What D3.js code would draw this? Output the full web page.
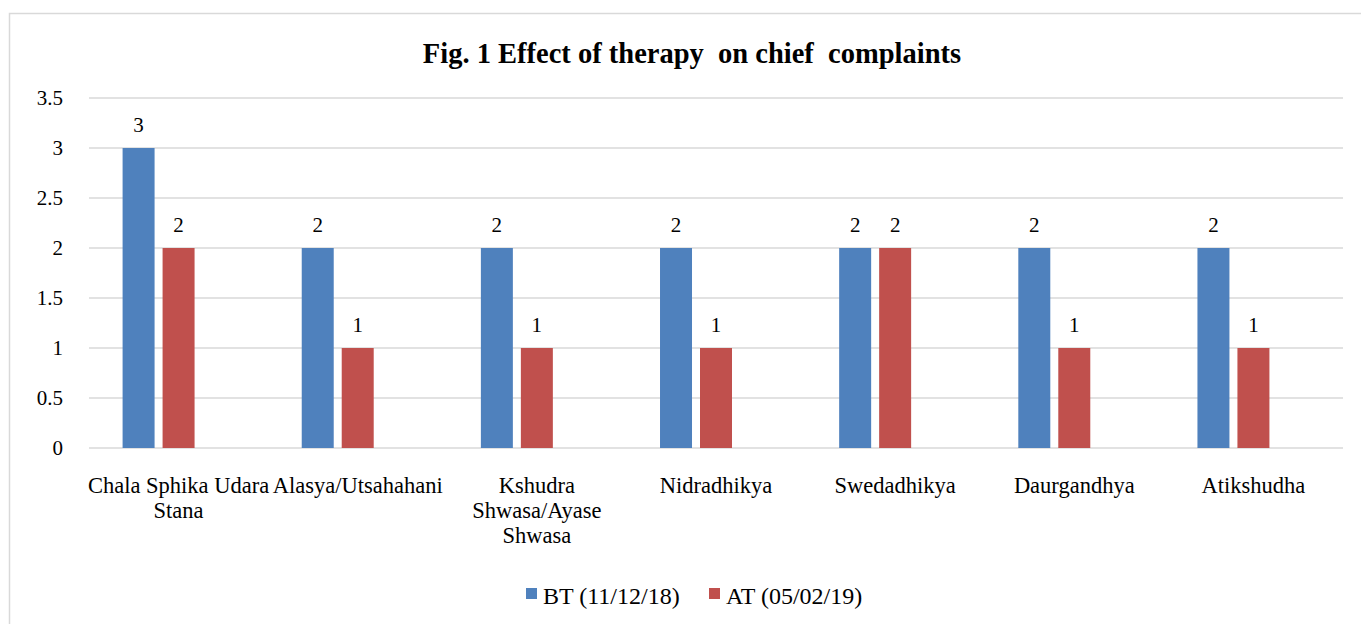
<html>
<script src="https://d3js.org/d3.v7.min.js"></script>
<style>
  body { margin: 0; background: #fff; }
  text { fill: #000; }
</style>
<body>
<script>
// chart data
var categories = ["Chala Sphika Udara\nStana", "Alasya/Utsahahani", "Kshudra\nShwasa/Ayase\nShwasa",
                  "Nidradhikya", "Swedadhikya", "Daurgandhya", "Atikshudha"];
var seriesNames = ["BT (11/12/18)", "AT (05/02/19)"];
var btValues = [3, 2, 2, 2, 2, 2, 2];
var atValues = [2, 1, 1, 1, 2, 1, 1];
var yTicks = [0, 0.5, 1, 1.5, 2, 2.5, 3, 3.5];
var colors = ["#4F81BD", "#C0504D"];

var w = 1361, h = 624;
var padL = 89, padR = 1343, padT = 98, padB = 448;
var serif = "'Liberation Serif', serif";

var svg = d3.select("body").append("svg")
    .attr("width", w)
    .attr("height", h);

// chart area border (runs off the right / bottom edge like the original)
svg.append("rect")
    .attr("x", 9.5).attr("y", 13.5)
    .attr("width", w + 20).attr("height", h + 20)
    .attr("fill", "#fff")
    .attr("stroke", "#D9D9D9")
    .attr("stroke-width", 1.5);

svg.append("text")
    .attr("x", 692).attr("y", 62.5)
    .attr("text-anchor", "middle")
    .style("font-family", serif)
    .style("font-weight", "bold")
    .style("font-size", "28.5px")
    .style("white-space", "pre")
    .text("Fig. 1 Effect of therapy  on chief  complaints");

var yScale = d3.scaleLinear().domain([0, 3.5]).range([padB, padT]);
var xScale = d3.scaleBand().domain(d3.range(categories.length)).range([padL, padR]);
// the source chart has room for three bars per group (third one empty)
var xInner = d3.scaleBand().domain([0, 1, 2]).range([0, xScale.bandwidth()])
    .paddingInner(0.2).paddingOuter(0.84);

// gridlines
svg.append("g").selectAll("line")
    .data(yTicks)
    .enter().append("line")
    .attr("x1", padL).attr("x2", padR)
    .attr("y1", function(d) { return yScale(d); })
    .attr("y2", function(d) { return yScale(d); })
    .attr("stroke", "#D9D9D9")
    .attr("stroke-width", 1.5);

// y axis labels
var yAxis = d3.axisLeft(yScale).tickValues(yTicks).tickSize(0).tickPadding(26).tickFormat(d3.format("~g"));
var gy = svg.append("g")
    .attr("transform", "translate(" + padL + ",0)")
    .call(yAxis);
gy.select(".domain").remove();
gy.selectAll("text")
    .style("font-family", serif)
    .style("font-size", "21px")
    .attr("fill", "#000");

var allSeries = [btValues, atValues];
allSeries.forEach(function(vals, si) {
  var g = svg.append("g");
  g.selectAll("rect")
    .data(vals)
    .enter().append("rect")
    .attr("x", function(d, i) { return xScale(i) + xInner(si); })
    .attr("y", function(d) { return yScale(d); })
    .attr("width", xInner.bandwidth())
    .attr("height", function(d) { return padB - yScale(d); })
    .attr("fill", colors[si]);
  g.selectAll("text")
    .data(vals)
    .enter().append("text")
    .attr("x", function(d, i) { return xScale(i) + xInner(si) + xInner.bandwidth() / 2; })
    .attr("y", function(d) { return yScale(d) - 16; })
    .attr("text-anchor", "middle")
    .style("font-family", serif)
    .style("font-size", "21px")
    .text(function(d) { return d; });
});

// category labels, line breaks as in the original
var cat = svg.append("g").selectAll("text")
    .data(categories)
    .enter().append("text")
    .attr("text-anchor", "middle")
    .style("font-family", serif)
    .style("font-size", "22.5px");
cat.each(function(d, i) {
  var lines = d.split("\n");
  var t = d3.select(this);
  lines.forEach(function(l, k) {
    t.append("tspan")
      .attr("x", xScale(i) + xScale.bandwidth() / 2)
      .attr("y", 493 + k * 25)
      .text(l);
  });
});

// legend
var legX = [526, 709];
var leg = svg.append("g").selectAll("g")
    .data(seriesNames)
    .enter().append("g")
    .attr("transform", function(d, i) { return "translate(" + legX[i] + ",588)"; });
leg.append("rect")
    .attr("width", 11).attr("height", 11)
    .attr("fill", function(d, i) { return colors[i]; });
leg.append("text")
    .attr("x", 17).attr("y", 16)
    .style("font-family", serif)
    .style("font-size", "24px")
    .text(function(d) { return d; });
</script>
</body>
</html>
